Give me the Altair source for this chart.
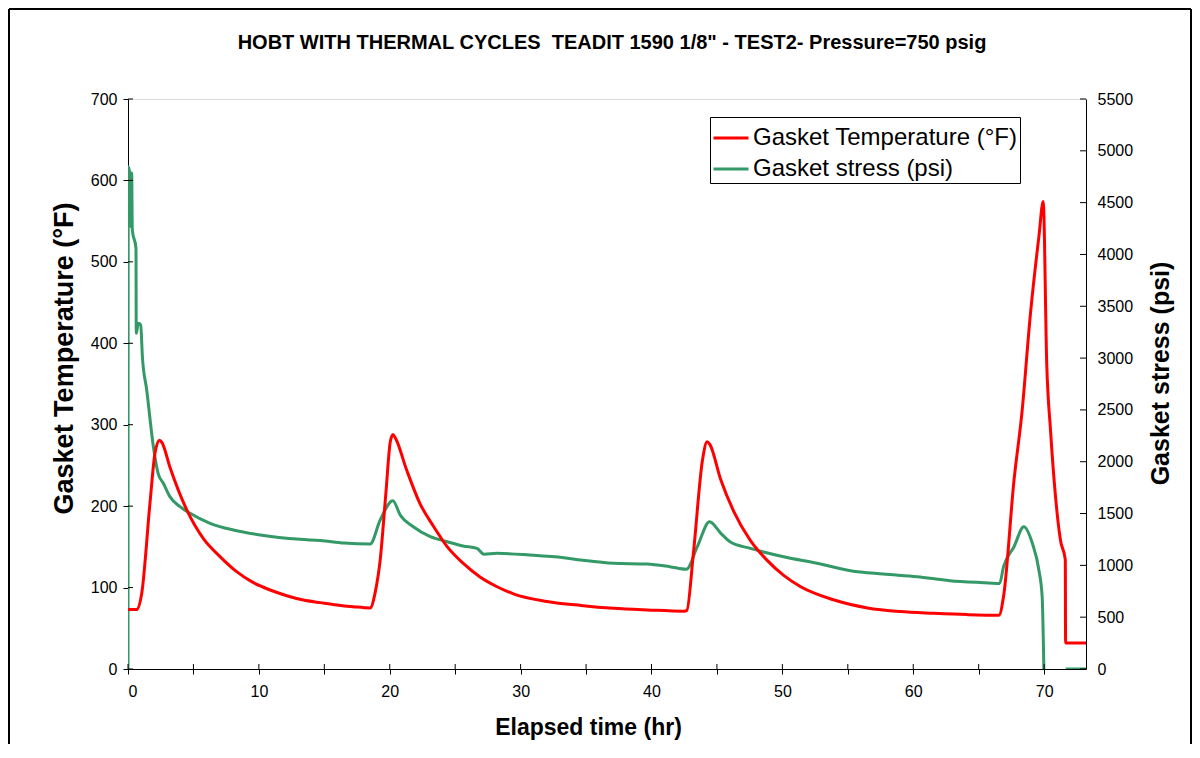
import altair as alt
import pandas as pd

# ---- data ----
temp_t = [0, 0.66, 1.05, 1.68, 2.06, 2.4, 2.6, 3.2, 4.5, 5.76, 7.03, 8.3, 9.58, 10.86,
          12.13, 13.4, 14.7, 15.95, 17.2, 18.5,
          18.9, 19.27, 19.7, 20.05, 20.25, 20.45, 21.3, 22.3, 23.35, 24.4, 25.6, 26.9,
          28.2, 29.5, 32.0, 34.6, 37.1, 39.7, 42.5,
          42.7, 43.2, 43.9, 44.25, 44.45, 45.3, 46.3, 47.55, 48.8, 50.1, 51.4, 53.9,
          56.5, 59.0, 61.6, 64.1, 66.55,
          66.9, 67.7, 68.3, 68.96, 69.6, 69.93, 70.2, 70.49, 70.87, 71.25, 71.62,
          71.64, 73.2]
temp_v = [73, 73, 93, 204, 265, 281, 278, 248, 195, 160, 138, 119.5, 106, 97,
          90, 84.7, 81.5, 78.6, 76.5, 75,
          95, 134, 215, 280, 288, 283, 244, 203.5, 175, 150, 130, 113,
          101, 92, 83, 78, 74.5, 72.5, 71,
          72, 142, 257, 279, 276, 232, 193, 158, 134, 115, 101, 85,
          75, 70.5, 68.4, 66.8, 66,
          89, 232, 314, 437, 531, 574, 375, 293, 212, 158, 134,
          32, 32]

stress_t = [0, 0.02, 0.15, 0.23, 0.28, 0.33, 0.61, 0.63, 0.79, 0.97, 1.1, 1.43, 1.94,
            2.3, 2.7, 3.2, 3.98, 4.74, 6.27, 8.05, 10.1, 13.15, 14.7, 16.5, 18.5,
            19.27, 20.24, 20.8, 21.8, 23.1, 24.4, 25.6, 26.66, 27.2, 28.2, 30.7, 33.3,
            34.6, 37.1, 39.65, 41.4, 42.66,
            43.5, 44.44, 45.3, 46.0, 47.55, 50.1, 52.65, 55.2, 57.7, 60.3, 62.8, 65.4,
            66.6, 66.9, 67.7, 68.45, 69.1, 69.6, 69.85, 69.98,
            71.65, 73.2]
stress_v = [0, 4847, 4767, 4268, 4786, 4236, 4059, 3239, 3336, 3319, 3013, 2692, 2145,
            1888, 1792, 1663, 1566, 1502, 1406, 1341, 1293, 1251, 1240, 1215, 1206,
            1438, 1624, 1486, 1373, 1277, 1228, 1187, 1164, 1107, 1116, 1100, 1074,
            1052, 1020, 1013, 987, 962,
            1180, 1421, 1309, 1228, 1164, 1083, 1020, 949, 917, 891, 852, 833,
            826, 987, 1180, 1373, 1213, 955, 698, 0,
            0, 0]
stress_seg = [1] * 62 + [2, 2]

series_names = ["Gasket Temperature (°F)", "Gasket stress (psi)"]
series_colors = ["#FF0000", "#339966"]

x_ticks = list(range(0, 75, 5))
left_ticks = list(range(0, 701, 100))
right_ticks = list(range(0, 5501, 500))

title_text = 'HOBT WITH THERMAL CYCLES\u00a0 TEADIT 1590 1/8" - TEST2- Pressure=750 psig'

temp_df = pd.DataFrame({"t": temp_t, "v": temp_v, "series": series_names[0], "seg": 1})
stress_df = pd.DataFrame({"t": stress_t, "v": stress_v, "series": series_names[1], "seg": stress_seg})
xtick_df = pd.DataFrame({"t": x_ticks})
ltick_df = pd.DataFrame({"v": left_ticks})
rtick_df = pd.DataFrame({"v": right_ticks})

FONT = "Liberation Sans"
W, H = 958, 570
TEMP_DOMAIN = [0, 700]
STRESS_DOMAIN = [0, 5500]

common_axis = dict(grid=False, labelFontSize=16, titleFontWeight="bold",
                   domainColor="black", tickColor="black", labelColor="black",
                   titleColor="black", labelFont=FONT, titleFont=FONT)

x_scale = alt.Scale(domain=[0, 73.2], nice=False, zero=False)
x_enc = alt.X("t:Q", scale=x_scale,
              axis=alt.Axis(title="Elapsed time (hr)", values=x_ticks,
                            labelExpr="datum.value % 10 == 0 ? datum.label : ''",
                            tickSize=5, labelPadding=9, titlePadding=17, titleFontSize=23,
                            titleX=460, **common_axis))

color_enc = alt.Color("series:N",
                      scale=alt.Scale(domain=series_names, range=series_colors),
                      legend=alt.Legend(title=None, orient="none", legendX=582, legendY=18,
                                        symbolType="stroke", symbolSize=1225,
                                        symbolStrokeWidth=3, labelFontSize=24,
                                        labelFont=FONT, labelColor="black",
                                        strokeColor="black", fillColor="white",
                                        padding=2, rowPadding=0, labelOffset=3,
                                        labelLimit=400))

temp_line = alt.Chart(temp_df).mark_line(strokeWidth=3, clip=True, interpolate="monotone").encode(
    x=x_enc,
    y=alt.Y("v:Q", scale=alt.Scale(domain=TEMP_DOMAIN, nice=False),
            axis=alt.Axis(title="Gasket Temperature (°F)", orient="left", values=left_ticks,
                          format="d", tickSize=5, labelPadding=6, titlePadding=12,
                          titleFontSize=27, titleY=259, **common_axis)),
    color=color_enc,
    detail="seg:N",
)

stress_line = alt.Chart(stress_df).mark_line(strokeWidth=3, clip=True, interpolate="monotone").encode(
    x=x_enc,
    y=alt.Y("v:Q", scale=alt.Scale(domain=STRESS_DOMAIN, nice=False),
            axis=alt.Axis(title="Gasket stress (psi)", orient="right", values=right_ticks,
                          format="d", ticks=False, labelPadding=11, titlePadding=16,
                          titleFontSize=25, titleAngle=270, titleBaseline="top", titleY=274,
                          **common_axis)),
    color=color_enc,
    detail="seg:N",
)

# inner halves of the tick marks (Excel style crossing ticks)
xtick_in = alt.Chart(xtick_df).mark_rule(color="black", strokeWidth=1).encode(
    x=alt.X("t:Q", scale=x_scale), y=alt.value(H - 5), y2=alt.value(H))
ltick_in = alt.Chart(ltick_df).mark_rule(color="black", strokeWidth=1).encode(
    y=alt.Y("v:Q", scale=alt.Scale(domain=TEMP_DOMAIN, nice=False), axis=None),
    x=alt.value(0), x2=alt.value(5))
rtick_in = alt.Chart(rtick_df).mark_rule(color="black", strokeWidth=1).encode(
    y=alt.Y("v:Q", scale=alt.Scale(domain=STRESS_DOMAIN, nice=False), axis=None),
    x=alt.value(W - 6), x2=alt.value(W))

frame_df = pd.DataFrame({"k": [0]})
frame_left = alt.Chart(frame_df).mark_rule(color="black", strokeWidth=2).encode(
    x=alt.value(-119), y=alt.value(-90), y2=alt.value(H + 80))
frame_right = alt.Chart(frame_df).mark_rule(color="black", strokeWidth=2).encode(
    x=alt.value(1063), y=alt.value(-90), y2=alt.value(H + 80))
frame_top = alt.Chart(frame_df).mark_rule(color="black", strokeWidth=2).encode(
    x=alt.value(-119), x2=alt.value(1063), y=alt.value(-90))

title_df = pd.DataFrame({"label": [title_text]})
title_mark = alt.Chart(title_df).mark_text(
    font=FONT, fontSize=20, fontWeight="bold", color="black",
    align="center", baseline="middle").encode(
    text="label:N", x=alt.value(484), y=alt.value(-56))

chart = alt.layer(stress_line, temp_line, xtick_in, ltick_in, rtick_in,
                  frame_left, frame_right, frame_top, title_mark
).resolve_scale(
    y="independent"
).properties(
    width=W, height=H,
    autosize=alt.AutoSizeParams(type="none"),
    padding={"left": 120, "top": 91, "right": 106, "bottom": 75},
).configure_view(stroke="#808080", strokeWidth=1).configure(background="white")

chart.save("out.html", embed_options={"renderer": "svg", "actions": False})
